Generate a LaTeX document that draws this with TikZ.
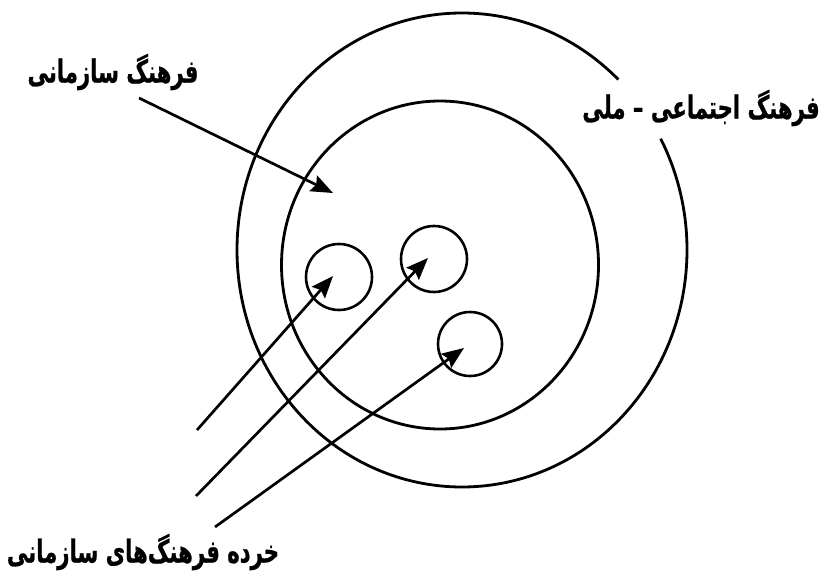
\documentclass[tikz,border=0pt]{standalone}
\usepackage{fontspec}
\usepackage{tikz}
\usetikzlibrary{positioning, arrows.meta, calc}
\newfontfamily\arabicfont[Script=Arabic, FakeStretch=0.67, BoldFeatures={FakeBold=0.6}]{DejaVu Sans}
\TeXXeTstate=1

\begin{document}
\begin{tikzpicture}[x=0.03cm, y=0.03cm,
    ring/.style={line width=2.4pt},
    pointer/.style={line width=2.3pt, -{Stealth[length=0.66cm, width=0.52cm, inset=0.1cm]}},
    lbl/.style={font=\arabicfont\bfseries\fontsize{27}{30}\selectfont, inner sep=0pt}]
      \useasboundingbox[fill=white] (0,0) rectangle (823,575);

      % national culture ring, open at the label
      \draw[ring] (462,325) ++(46:225 and 237) arc[start angle=46, end angle=388, x radius=225, y radius=237];
      % organisational culture
      \draw[ring] (440,310) ellipse[x radius=158.5, y radius=164];
      % sub-cultures
      \node[draw, circle, line width=2.2pt, minimum size=1.98cm] (sub1) at (339,298) {};
      \node[draw, circle, line width=2.2pt, minimum size=1.98cm] (sub2) at (434,316) {};
      \node[draw, circle, line width=2.2pt, minimum size=1.92cm] (sub3) at (470,231) {};

      \node[lbl] (orgcult) at (113,503) {\beginR فرهنگ سازمانی\endR};
      \node[lbl] (natcult) at (701,467) {\beginR فرهنگ اجتماعی – ملی\endR};
      \node[lbl] (subcult) at (143,23) {\beginR خرده فرهنگ‌های سازمانی\endR};

      \coordinate (t0) at (139,477);
      \coordinate (h0) at (333,382);
      \coordinate (t1) at (197,145);
      \coordinate (t2) at (196,79);
      \coordinate (t3) at (215,48);

      \draw[pointer] (t0) -- (h0);
      \draw[pointer] (t1) -- ($(sub1.center)+(-6,1)$);
      \draw[pointer] (t2) -- ($(sub2.center)+(-6,1)$);
      \draw[pointer] (t3) -- ($(sub3.center)+(-6,-4)$);
    \end{tikzpicture}
\end{document}
